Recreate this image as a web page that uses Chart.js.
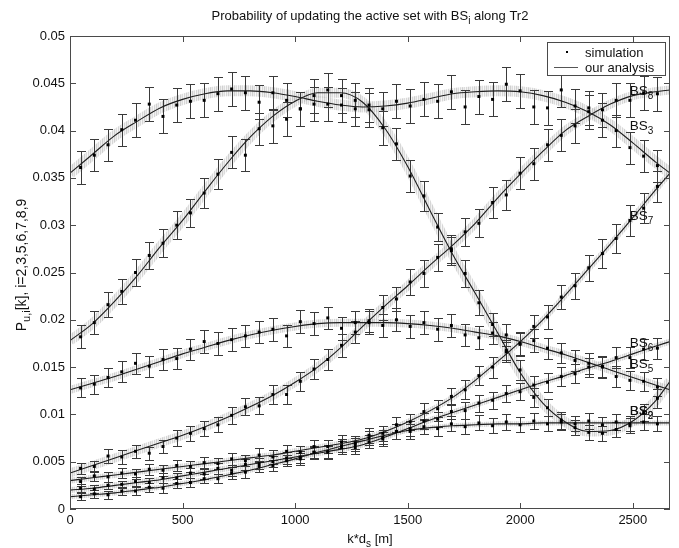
<!DOCTYPE html>
<html>
<head>
<meta charset="utf-8">
<script src="https://cdn.jsdelivr.net/npm/chart.js@4.4.0/dist/chart.umd.min.js"></script>
<style>
  html, body { margin: 0; padding: 0; background: #fff; }
</style>
</head>
<body>
<canvas id="chart" width="679" height="548" style="width:679px;height:548px;display:block"></canvas>
<script>
// axis ticks
const xTicks = [0, 500, 1000, 1500, 2000, 2500];
const yTicks = [0, 0.005, 0.01, 0.015, 0.02, 0.025, 0.03, 0.035, 0.04, 0.045, 0.05];

// x positions of the analysis curves and of the simulation points (m)
const gridX = [0, 100, 200, 300, 400, 500, 600, 700, 800, 900, 1000, 1100, 1200, 1300,
  1400, 1500, 1600, 1700, 1800, 1900, 2000, 2100, 2200, 2300, 2400, 2500, 2600, 2665];
const simX = [47, 108, 169, 230, 291, 352, 413, 474, 535, 596, 657, 718, 779, 840, 901,
  962, 1023, 1084, 1145, 1206, 1267, 1328, 1389, 1450, 1511, 1572, 1633, 1694, 1755,
  1816, 1877, 1938, 1999, 2060, 2121, 2182, 2243, 2304, 2365, 2426, 2487, 2548, 2609];

// BS3
const bs3Analysis = [0.0355, 0.0375, 0.0395, 0.0410, 0.0424, 0.0433, 0.0439, 0.0442, 0.0442, 0.0440,
  0.0436, 0.0431, 0.0427, 0.0425, 0.0426, 0.0429, 0.0434, 0.0439, 0.0441, 0.0442, 0.0441, 0.0437,
  0.0430, 0.0420, 0.0406, 0.0387, 0.0367, 0.0355];
const bs3Sim = [0.0361, 0.0374, 0.0385, 0.0401, 0.0411, 0.0428, 0.0415, 0.0427, 0.0431, 0.0432,
  0.0439, 0.0444, 0.0440, 0.0430, 0.0440, 0.0432, 0.0423, 0.0428, 0.0428, 0.0427, 0.0423, 0.0427,
  0.0423, 0.0431, 0.0426, 0.0433, 0.0431, 0.0441, 0.0425, 0.0436, 0.0433, 0.0449, 0.0442, 0.0425,
  0.0424, 0.0443, 0.0426, 0.0424, 0.0411, 0.0400, 0.0382, 0.0373, 0.0363];
const bs3Err = [0.0017, 0.0017, 0.0017, 0.0017, 0.0018, 0.0018, 0.0018, 0.0018, 0.0018, 0.0018,
  0.0018, 0.0018, 0.0018, 0.0018, 0.0018, 0.0018, 0.0018, 0.0018, 0.0018, 0.0018, 0.0018, 0.0018,
  0.0018, 0.0018, 0.0018, 0.0018, 0.0018, 0.0018, 0.0018, 0.0018, 0.0018, 0.0018, 0.0018, 0.0018,
  0.0018, 0.0018, 0.0018, 0.0018, 0.0018, 0.0017, 0.0017, 0.0017, 0.0017];

// BS2 (rises to a peak near 1150 m, dips near 2300 m)
const bs2Analysis = [0.0178, 0.0196, 0.0220, 0.0247, 0.0277, 0.0305, 0.0336, 0.0366, 0.0393, 0.0415,
  0.0431, 0.0440, 0.0440, 0.0430, 0.0402, 0.0362, 0.0315, 0.0269, 0.0228, 0.0186, 0.0144, 0.0112,
  0.0092, 0.0082, 0.0083, 0.0093, 0.0114, 0.0135];
const bs2Sim = [0.0182, 0.0197, 0.0216, 0.0230, 0.0250, 0.0268, 0.0281, 0.0300, 0.0313, 0.0334,
  0.0354, 0.0377, 0.0374, 0.0402, 0.0405, 0.0412, 0.0423, 0.0437, 0.0443, 0.0437, 0.0432, 0.0422,
  0.0403, 0.0386, 0.0352, 0.0331, 0.0298, 0.0275, 0.0249, 0.0218, 0.0195, 0.0168, 0.0147, 0.0118,
  0.0107, 0.0094, 0.0086, 0.0081, 0.0080, 0.0084, 0.0088, 0.0102, 0.0117];
const bs2Err = [0.0012, 0.0012, 0.0013, 0.0013, 0.0014, 0.0014, 0.0015, 0.0015, 0.0015, 0.0016,
  0.0016, 0.0017, 0.0017, 0.0017, 0.0018, 0.0018, 0.0018, 0.0018, 0.0018, 0.0018, 0.0018, 0.0018,
  0.0018, 0.0017, 0.0017, 0.0016, 0.0015, 0.0015, 0.0014, 0.0013, 0.0012, 0.0011, 0.0011, 0.0010,
  0.0009, 0.0009, 0.0008, 0.0008, 0.0008, 0.0008, 0.0008, 0.0009, 0.0010];

// BS5
const bs5Analysis = [0.0126, 0.0133, 0.0140, 0.0148, 0.0156, 0.0164, 0.0171, 0.0178, 0.0184, 0.0189,
  0.0193, 0.0196, 0.0197, 0.0197, 0.0197, 0.0196, 0.0194, 0.0191, 0.0187, 0.0183, 0.0177, 0.0170,
  0.0163, 0.0155, 0.0147, 0.0139, 0.0131, 0.0126];
const bs5Sim = [0.0128, 0.0132, 0.0139, 0.0145, 0.0154, 0.0151, 0.0158, 0.0159, 0.0169, 0.0177,
  0.0175, 0.0179, 0.0183, 0.0187, 0.0190, 0.0183, 0.0198, 0.0196, 0.0202, 0.0191, 0.0197, 0.0199,
  0.0194, 0.0200, 0.0193, 0.0197, 0.0190, 0.0194, 0.0184, 0.0181, 0.0186, 0.0184, 0.0175, 0.0178,
  0.0170, 0.0165, 0.0157, 0.0154, 0.0150, 0.0140, 0.0136, 0.0135, 0.0129];
const bs5Err = [0.0010, 0.0010, 0.0010, 0.0011, 0.0011, 0.0011, 0.0011, 0.0011, 0.0011, 0.0012,
  0.0012, 0.0012, 0.0012, 0.0012, 0.0012, 0.0012, 0.0012, 0.0012, 0.0012, 0.0012, 0.0012, 0.0012,
  0.0012, 0.0012, 0.0012, 0.0012, 0.0012, 0.0012, 0.0012, 0.0012, 0.0012, 0.0012, 0.0012, 0.0012,
  0.0011, 0.0011, 0.0011, 0.0011, 0.0011, 0.0011, 0.0010, 0.0010, 0.0010];

// BS8 (rises from the bottom to the top right)
const bs8Analysis = [0.0038, 0.0046, 0.0054, 0.0062, 0.0070, 0.0078, 0.0087, 0.0097, 0.0108, 0.0120,
  0.0134, 0.0150, 0.0170, 0.0193, 0.0215, 0.0236, 0.0258, 0.0279, 0.0302, 0.0329, 0.0354, 0.0378,
  0.0400, 0.0415, 0.0428, 0.0437, 0.0441, 0.0443];
const bs8Sim = [0.0043, 0.0045, 0.0056, 0.0055, 0.0061, 0.0059, 0.0066, 0.0075, 0.0080, 0.0085,
  0.0089, 0.0099, 0.0108, 0.0109, 0.0121, 0.0121, 0.0135, 0.0148, 0.0158, 0.0173, 0.0187, 0.0197,
  0.0213, 0.0222, 0.0240, 0.0249, 0.0266, 0.0273, 0.0293, 0.0302, 0.0324, 0.0332, 0.0355, 0.0365,
  0.0385, 0.0395, 0.0405, 0.0420, 0.0422, 0.0432, 0.0432, 0.0440, 0.0439];
const bs8Err = [0.0006, 0.0006, 0.0007, 0.0007, 0.0007, 0.0007, 0.0007, 0.0008, 0.0008, 0.0008,
  0.0008, 0.0009, 0.0009, 0.0009, 0.0010, 0.0010, 0.0010, 0.0011, 0.0011, 0.0012, 0.0012, 0.0012,
  0.0013, 0.0013, 0.0014, 0.0014, 0.0014, 0.0015, 0.0015, 0.0015, 0.0016, 0.0016, 0.0017, 0.0017,
  0.0017, 0.0017, 0.0018, 0.0018, 0.0018, 0.0018, 0.0018, 0.0018, 0.0018];

// BS7
const bs7Analysis = [0.0030, 0.0033, 0.0036, 0.0039, 0.0042, 0.0045, 0.0048, 0.0051, 0.0054, 0.0057,
  0.0061, 0.0065, 0.0069, 0.0074, 0.0082, 0.0092, 0.0104, 0.0118, 0.0136, 0.0156, 0.0177, 0.0200,
  0.0226, 0.0253, 0.0280, 0.0308, 0.0337, 0.0355];
const bs7Sim = [0.0029, 0.0035, 0.0034, 0.0038, 0.0037, 0.0042, 0.0041, 0.0046, 0.0045, 0.0049,
  0.0048, 0.0053, 0.0051, 0.0057, 0.0055, 0.0061, 0.0060, 0.0066, 0.0066, 0.0071, 0.0070, 0.0078,
  0.0080, 0.0089, 0.0092, 0.0103, 0.0106, 0.0119, 0.0126, 0.0141, 0.0150, 0.0166, 0.0174, 0.0193,
  0.0203, 0.0224, 0.0236, 0.0255, 0.0270, 0.0286, 0.0305, 0.0318, 0.0341];
const bs7Err = [0.0005, 0.0005, 0.0005, 0.0005, 0.0005, 0.0006, 0.0006, 0.0006, 0.0006, 0.0006,
  0.0006, 0.0006, 0.0006, 0.0007, 0.0007, 0.0007, 0.0007, 0.0007, 0.0007, 0.0007, 0.0007, 0.0008,
  0.0008, 0.0008, 0.0008, 0.0009, 0.0009, 0.0009, 0.0010, 0.0010, 0.0011, 0.0011, 0.0012, 0.0012,
  0.0013, 0.0013, 0.0014, 0.0014, 0.0015, 0.0015, 0.0016, 0.0016, 0.0016];

// BS6
const bs6Analysis = [0.0020, 0.0022, 0.0025, 0.0028, 0.0031, 0.0035, 0.0039, 0.0043, 0.0047, 0.0051,
  0.0055, 0.0059, 0.0063, 0.0068, 0.0076, 0.0085, 0.0094, 0.0102, 0.0110, 0.0118, 0.0126, 0.0134,
  0.0141, 0.0149, 0.0156, 0.0164, 0.0172, 0.0177];
const bs6Sim = [0.0022, 0.0021, 0.0025, 0.0026, 0.0029, 0.0028, 0.0033, 0.0033, 0.0038, 0.0037,
  0.0043, 0.0041, 0.0047, 0.0048, 0.0050, 0.0054, 0.0055, 0.0060, 0.0060, 0.0065, 0.0065, 0.0071,
  0.0074, 0.0082, 0.0085, 0.0093, 0.0095, 0.0103, 0.0104, 0.0112, 0.0115, 0.0122, 0.0124, 0.0131,
  0.0134, 0.0140, 0.0143, 0.0150, 0.0151, 0.0160, 0.0160, 0.0169, 0.0170];
const bs6Err = [0.0004, 0.0004, 0.0004, 0.0004, 0.0005, 0.0005, 0.0005, 0.0005, 0.0005, 0.0005,
  0.0006, 0.0006, 0.0006, 0.0006, 0.0006, 0.0006, 0.0006, 0.0006, 0.0007, 0.0007, 0.0007, 0.0007,
  0.0007, 0.0008, 0.0008, 0.0008, 0.0008, 0.0008, 0.0009, 0.0009, 0.0009, 0.0009, 0.0009, 0.0010,
  0.0010, 0.0010, 0.0010, 0.0010, 0.0011, 0.0011, 0.0011, 0.0011, 0.0011];

// BS9 (levels off near 0.009)
const bs9Analysis = [0.0013, 0.0015, 0.0017, 0.0020, 0.0023, 0.0027, 0.0031, 0.0036, 0.0041, 0.0047,
  0.0053, 0.0060, 0.0066, 0.0072, 0.0078, 0.0083, 0.0086, 0.0088, 0.0089, 0.0090, 0.0090, 0.0091,
  0.0091, 0.0091, 0.0091, 0.0091, 0.0091, 0.0091];
const bs9Sim = [0.0013, 0.0016, 0.0015, 0.0019, 0.0019, 0.0023, 0.0022, 0.0027, 0.0028, 0.0032,
  0.0032, 0.0038, 0.0039, 0.0045, 0.0046, 0.0051, 0.0053, 0.0060, 0.0061, 0.0067, 0.0068, 0.0075,
  0.0076, 0.0082, 0.0082, 0.0087, 0.0085, 0.0090, 0.0087, 0.0091, 0.0088, 0.0092, 0.0089, 0.0093,
  0.0090, 0.0092, 0.0090, 0.0093, 0.0089, 0.0092, 0.0090, 0.0092, 0.0090];
const bs9Err = [0.0004, 0.0004, 0.0004, 0.0004, 0.0004, 0.0005, 0.0005, 0.0005, 0.0005, 0.0005,
  0.0005, 0.0006, 0.0006, 0.0006, 0.0006, 0.0006, 0.0006, 0.0007, 0.0007, 0.0007, 0.0007, 0.0007,
  0.0007, 0.0008, 0.0008, 0.0008, 0.0008, 0.0008, 0.0008, 0.0008, 0.0008, 0.0008, 0.0008, 0.0008,
  0.0008, 0.0008, 0.0008, 0.0008, 0.0008, 0.0008, 0.0008, 0.0008, 0.0008];

// curve labels: index and where the "BS" text sits (data units)
const labelX = 2486;
const series = [
  { id: "8", analysis: bs8Analysis, sim: bs8Sim, err: bs8Err, labelY: 0.0443, band: 9 },
  { id: "3", analysis: bs3Analysis, sim: bs3Sim, err: bs3Err, labelY: 0.0406, band: 11 },
  { id: "5", analysis: bs5Analysis, sim: bs5Sim, err: bs5Err, labelY: 0.0154, band: 8 },
  { id: "6", analysis: bs6Analysis, sim: bs6Sim, err: bs6Err, labelY: 0.0177, band: 6 },
  { id: "7", analysis: bs7Analysis, sim: bs7Sim, err: bs7Err, labelY: 0.0311, band: 6 },
  { id: "2", analysis: bs2Analysis, sim: bs2Sim, err: bs2Err, labelY: 0.0105, band: 10 },
  { id: "9", analysis: bs9Analysis, sim: bs9Sim, err: bs9Err, labelY: 0.0105, band: 5 }
];

const FONT = "'Liberation Sans', Arial, Helvetica, sans-serif";

function pts(xs, ys) {
  return xs.map((x, i) => ({ x: x, y: ys[i] }));
}

// vertical hatch used for the raw simulation traces
function hatch() {
  const c = document.createElement('canvas');
  c.width = 6; c.height = 1;
  const g = c.getContext('2d');
  const shades = ['rgba(170,170,170,0.55)', 'rgba(205,205,205,0.4)', 'rgba(185,185,185,0.5)',
    'rgba(225,225,225,0.25)', 'rgba(175,175,175,0.5)', 'rgba(212,212,212,0.35)'];
  shades.forEach((s, i) => { g.fillStyle = s; g.fillRect(i, 0, 1, 1); });
  return g.createPattern(c, 'repeat');
}
const bandPattern = hatch();

const datasets = [];
// noisy simulation traces (light grey band)
series.forEach(s => datasets.push({
  data: pts(gridX, s.analysis), borderColor: bandPattern, borderWidth: s.band,
  pointRadius: 0, cubicInterpolationMode: 'monotone', order: 3, clip: 0
}));
// analysis curves
series.forEach(s => datasets.push({
  data: pts(gridX, s.analysis), borderColor: '#1e1e1e', borderWidth: 1.1,
  pointRadius: 0, cubicInterpolationMode: 'monotone', order: 2, clip: 0
}));
// simulation means
series.forEach(s => datasets.push({
  data: pts(simX, s.sim), showLine: false, pointStyle: 'rect', pointRadius: 2.1,
  pointBackgroundColor: '#000', pointBorderWidth: 0, order: 1, clip: 0
}));

function drawErrorBars(chart) {
  const { ctx, chartArea } = chart;
  const x = chart.scales.x, y = chart.scales.y;
  ctx.save();
  ctx.beginPath();
  ctx.rect(chartArea.left, chartArea.top, chartArea.width, chartArea.height);
  ctx.clip();
  ctx.strokeStyle = '#3a3a3a';
  ctx.lineWidth = 1;
  ctx.beginPath();
  series.forEach(s => {
    s.sim.forEach((v, i) => {
      const px = Math.round(x.getPixelForValue(simX[i])) + 0.5;
      const t = Math.round(y.getPixelForValue(v + s.err[i])) + 0.5;
      const b = Math.round(y.getPixelForValue(v - s.err[i])) + 0.5;
      ctx.moveTo(px, t); ctx.lineTo(px, b);
      ctx.moveTo(px - 4.5, t); ctx.lineTo(px + 4.5, t);
      ctx.moveTo(px - 4.5, b); ctx.lineTo(px + 4.5, b);
    });
  });
  ctx.stroke();
  ctx.restore();
}

// text with one subscript part: [normal, sub, normal]
function subText(ctx, x, y, parts, size, align) {
  const subSize = Math.round(size * 0.75);
  const widths = parts.map((p, i) => {
    ctx.font = (i % 2 ? subSize : size) + 'px ' + FONT;
    return ctx.measureText(p).width;
  });
  const total = widths.reduce((a, b) => a + b, 0);
  let cx = align === 'center' ? x - total / 2 : x;
  parts.forEach((p, i) => {
    ctx.font = (i % 2 ? subSize : size) + 'px ' + FONT;
    ctx.fillText(p, cx, y + (i % 2 ? size * 0.3 : 0));
    cx += widths[i];
  });
}

const overlay = {
  id: 'overlay',
  afterDatasetDraw(chart, args) {
    if (args.index === 0) drawErrorBars(chart);
  },
  afterDraw(chart) {
    const { ctx, chartArea: a } = chart;
    const x = chart.scales.x, y = chart.scales.y;
    ctx.save();
    // axes box and inward ticks
    ctx.strokeStyle = '#4a4a4a';
    ctx.lineWidth = 1;
    ctx.strokeRect(a.left + 0.5, a.top + 0.5, a.width - 1, a.height - 1);
    ctx.beginPath();
    xTicks.forEach(v => {
      const px = Math.round(x.getPixelForValue(v)) + 0.5;
      ctx.moveTo(px, a.bottom); ctx.lineTo(px, a.bottom - 6);
      ctx.moveTo(px, a.top); ctx.lineTo(px, a.top + 6);
    });
    yTicks.forEach(v => {
      const py = Math.round(y.getPixelForValue(v)) + 0.5;
      ctx.moveTo(a.left, py); ctx.lineTo(a.left + 6, py);
      ctx.moveTo(a.right, py); ctx.lineTo(a.right - 6, py);
    });
    ctx.stroke();

    ctx.fillStyle = '#111';
    ctx.textBaseline = 'alphabetic';
    // title
    subText(ctx, (a.left + a.right) / 2, 20, ['Probability of updating the active set with BS', 'i', ' along Tr2'], 13, 'center');
    // x label
    subText(ctx, (a.left + a.right) / 2, 543, ['k*d', 's', ' [m]'], 13, 'center');
    // y label
    ctx.save();
    ctx.translate(26, 265);
    ctx.rotate(-Math.PI / 2);
    subText(ctx, 0, 0, ['P', 'u,i', '[k], i=2,3,5,6,7,8,9'], 14, 'center');
    ctx.restore();

    // curve labels
    series.forEach(s => {
      const px = x.getPixelForValue(labelX);
      const py = y.getPixelForValue(s.labelY) + 5;
      subText(ctx, px, py, ['BS', s.id], 13.5, 'left');
    });

    // legend
    const lx = 547, ly = 42, lw = 118, lh = 33;
    ctx.fillStyle = '#fff';
    ctx.fillRect(lx, ly, lw, lh);
    ctx.strokeStyle = '#4a4a4a';
    ctx.strokeRect(lx + 0.5, ly + 0.5, lw, lh);
    ctx.fillStyle = '#000';
    ctx.fillRect(566, 51, 2, 2);
    ctx.strokeStyle = '#555';
    ctx.beginPath();
    ctx.moveTo(554, 67.5); ctx.lineTo(578, 67.5);
    ctx.stroke();
    ctx.fillStyle = '#111';
    ctx.font = '13px ' + FONT;
    ctx.fillText('simulation', 585, 57);
    ctx.fillText('our analysis', 585, 72);
    ctx.restore();
  }
};

new Chart(document.getElementById('chart').getContext('2d'), {
  type: 'line',
  data: { datasets: datasets },
  options: {
    responsive: false,
    animation: false,
    devicePixelRatio: 1,
    layout: { padding: { top: 36, right: 9, left: 0, bottom: 0 } },
    plugins: { legend: { display: false }, tooltip: { enabled: false }, title: { display: false } },
    scales: {
      x: {
        type: 'linear', min: 0, max: 2665,
        grid: { display: false, drawTicks: false }, border: { display: false },
        afterBuildTicks: s => { s.ticks = xTicks.map(v => ({ value: v })); },
        afterFit: s => { s.height = 39; },
        ticks: { padding: 4, color: '#111', font: { family: FONT, size: 13 }, maxRotation: 0, autoSkip: false,
          callback: v => String(v) }
      },
      y: {
        type: 'linear', min: 0, max: 0.05,
        grid: { display: false, drawTicks: false }, border: { display: false },
        afterBuildTicks: s => { s.ticks = yTicks.map(v => ({ value: v })); },
        afterFit: s => { s.width = 70; },
        ticks: { padding: 5, color: '#111', font: { family: FONT, size: 13 }, autoSkip: false,
          callback: v => String(+v.toFixed(3)) }
      }
    }
  },
  plugins: [overlay]
});
</script>
</body>
</html>
